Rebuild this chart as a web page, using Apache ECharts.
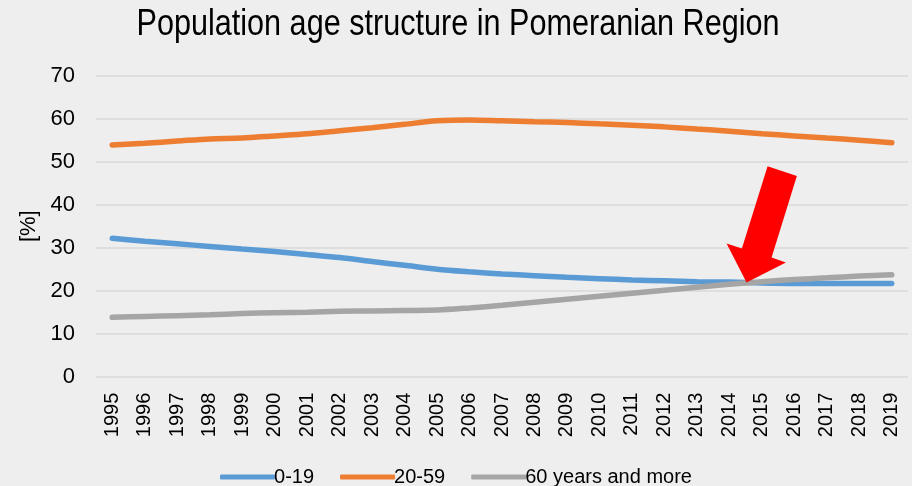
<!DOCTYPE html>
<html>
<head>
<meta charset="utf-8">
<script src="https://cdn.jsdelivr.net/npm/echarts@6/dist/echarts.min.js"></script>
<style>
  html, body { margin: 0; padding: 0; background: #eeeeee; }
  #chart { width: 912px; height: 486px; }
</style>
</head>
<body>
<div id="chart"></div>
<script>
// years on the x axis
const years = ['1995', '1996', '1997', '1998', '1999', '2000', '2001', '2002', '2003', '2004',
  '2005', '2006', '2007', '2008', '2009', '2010', '2011', '2012', '2013', '2014',
  '2015', '2016', '2017', '2018', '2019']

// share of population by age group, %
const age0to19 = [32.2, 31.5, 30.9, 30.3, 29.7, 29.1, 28.4, 27.7, 26.8, 25.9,
  25.0, 24.4, 23.9, 23.5, 23.1, 22.8, 22.5, 22.3, 22.1, 22.0,
  21.8, 21.7, 21.7, 21.7, 21.7]
const age20to59 = [53.9, 54.3, 54.8, 55.3, 55.5, 56.0, 56.5, 57.2, 57.9, 58.7,
  59.5, 59.7, 59.5, 59.3, 59.1, 58.8, 58.5, 58.1, 57.6, 57.1,
  56.5, 56.0, 55.5, 55.0, 54.4]
const age60plus = [13.8, 14.0, 14.2, 14.4, 14.7, 14.9, 15.0, 15.2, 15.3, 15.4,
  15.5, 16.0, 16.6, 17.3, 18.0, 18.7, 19.4, 20.1, 20.8, 21.5,
  22.1, 22.6, 23.0, 23.4, 23.7]

const yTicks = [0, 10, 20, 30, 40, 50, 60, 70]

// arrow tip: between 2014 and 2015, where 0-19 meets 60+
const arrowAt = { from: '2014', to: '2015', frac: 0.53, value: 21.9 }

const TITLE = 'Population age structure in Pomeranian Region'
const FONT = '"Liberation Sans Narrow", "Liberation Sans", Arial, sans-serif'
const COLORS = ['#5b9bd5', '#ed7d31', '#a5a5a5']

const chart = echarts.init(document.getElementById('chart'), null, { renderer: 'canvas' })

function lineSeries(name, data, color) {
  return {
    name: name,
    type: 'line',
    data: data,
    smooth: 0.3,
    symbol: 'none',
    lineStyle: { width: 5.5, color: color, cap: 'round' },
    itemStyle: { color: color },
    z: 3
  }
}

chart.setOption({
  backgroundColor: '#eeeeee',
  animation: false,
  textStyle: { fontFamily: FONT },
  grid: { left: 96, right: 4, top: 75.7, bottom: 109.3, containLabel: false },
  legend: {
    top: 467,
    padding: 0,
    left: 'center',
    itemWidth: 55,
    itemHeight: 5,
    itemGap: 26,
    icon: 'roundRect',
    textStyle: { fontFamily: FONT, fontSize: 20, color: '#000', padding: [0, 0, 0, -6] },
    data: ['0-19', '20-59', '60 years and more']
  },
  xAxis: {
    type: 'category',
    data: years,
    boundaryGap: true,
    axisLine: { show: false },
    axisTick: { show: false },
    axisLabel: { rotate: 90, interval: 0, margin: 16, fontFamily: FONT, fontSize: 20, color: '#000' }
  },
  yAxis: {
    type: 'value',
    min: yTicks[0],
    max: yTicks[yTicks.length - 1],
    interval: 10,
    name: '[%]',
    nameLocation: 'middle',
    nameGap: 53,
    nameRotate: 90,
    nameTextStyle: { fontFamily: FONT, fontSize: 22, color: '#000' },
    axisLine: { show: false },
    axisTick: { show: false },
    axisLabel: { margin: 21, fontFamily: FONT, fontSize: 22, color: '#000' },
    splitLine: { lineStyle: { color: '#d9d9d9', width: 1.5 } }
  },
  series: [
    lineSeries('0-19', age0to19, COLORS[0]),
    lineSeries('20-59', age20to59, COLORS[1]),
    lineSeries('60 years and more', age60plus, COLORS[2])
  ]
})

// title (squeezed a bit, the original uses a narrow font) and the red arrow
function drawOverlay() {
  const p0 = chart.convertToPixel({ gridIndex: 0 }, [arrowAt.from, arrowAt.value])
  const p1 = chart.convertToPixel({ gridIndex: 0 }, [arrowAt.to, arrowAt.value])
  const tipX = p0[0] + (p1[0] - p0[0]) * arrowAt.frac
  const tipY = p0[1]
  chart.setOption({
    graphic: [
      {
        type: 'text',
        x: 458,
        y: 7,
        scaleX: 0.85,
        style: {
          text: TITLE,
          fontFamily: FONT,
          fontSize: 36,
          fill: '#000',
          align: 'center',
          verticalAlign: 'top'
        }
      },
      {
        type: 'polygon',
        x: tipX,
        y: tipY,
        z: 10,
        shape: {
          points: [[21, -116.3], [50.3, -106.6], [25, -25], [39.3, -20], [0, 0], [-20, -39], [-4.7, -34]]
        },
        style: { fill: '#ff0000' }
      }
    ]
  })
}
drawOverlay()
</script>
</body>
</html>
